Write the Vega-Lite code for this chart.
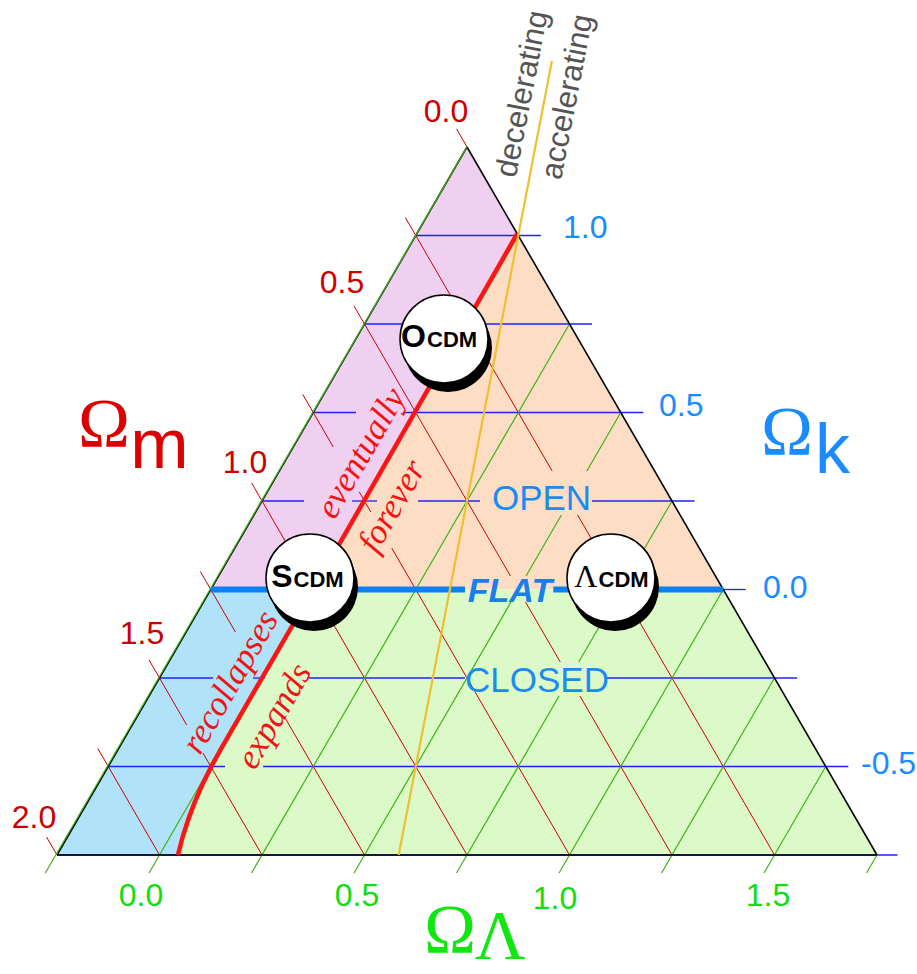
{
 "$schema": "https://vega.github.io/schema/vega-lite/v6.json",
 "width": 917,
 "height": 974,
 "padding": 0,
 "autosize": "none",
 "background": "white",
 "config": {"view": {"stroke": null}},
 "datasets": {
  "pink": [{"k":1.25,"h":-0.25,"h2":-0.25},{"k":1.0,"h":-0.5,"h2":0},{"k":0,"h":-1.5,"h2":-1.0}],
  "peach": [{"k":1.0,"h":0,"h2":0},{"k":0,"h":-1,"h2":1}],
  "blueReg": [
   {"k":0,"h":-1.5,"h2":-1},{"k":-0.1,"h":-1.6,"h2":-1.1},{"k":-0.2,"h":-1.7,"h2":-1.2},{"k":-0.3,"h":-1.8,"h2":-1.3},
   {"k":-0.4,"h":-1.9,"h2":-1.4},{"k":-0.45,"h":-1.95,"h2":-1.45},{"k":-0.5,"h":-2.0,"h2":-1.4975},{"k":-0.55,"h":-2.05,"h2":-1.54},
   {"k":-0.6,"h":-2.1,"h2":-1.5775},{"k":-0.65,"h":-2.15,"h2":-1.61},{"k":-0.7,"h":-2.2,"h2":-1.6375},{"k":-0.75,"h":-2.25,"h2":-1.66}],
  "greenReg": [
   {"k":0,"h":-1,"h2":1},{"k":-0.45,"h":-1.45,"h2":1.45},{"k":-0.5,"h":-1.4975,"h2":1.5},{"k":-0.55,"h":-1.54,"h2":1.55},
   {"k":-0.6,"h":-1.5775,"h2":1.6},{"k":-0.65,"h":-1.61,"h2":1.65},{"k":-0.7,"h":-1.6375,"h2":1.7},{"k":-0.75,"h":-1.66,"h2":1.75}],
  "blueGrid": [
   {"h":-0.5,"k":1,"h2":0.11,"k2":1},
   {"h":-0.75,"k":0.75,"h2":0.36,"k2":0.75},
   {"h":-1,"k":0.5,"h2":-0.7915,"k2":0.5},
   {"h":-0.5622,"k":0.5,"h2":0.61,"k2":0.5},
   {"h":-1.25,"k":0.25,"h2":-1.045,"k2":0.25},
   {"h":-0.811,"k":0.25,"h2":-0.689,"k2":0.25},
   {"h":-0.489,"k":0.25,"h2":-0.187,"k2":0.25},
   {"h":0.36,"k":0.25,"h2":0.86,"k2":0.25},
   {"h":1,"k":0,"h2":1.11,"k2":0},
   {"h":-1.75,"k":-0.25,"h2":-1.489,"k2":-0.25},
   {"h":-1.294,"k":-0.25,"h2":-1.235,"k2":-0.25},
   {"h":-1.03,"k":-0.25,"h2":-0.26,"k2":-0.25},
   {"h":0.433,"k":-0.25,"h2":1.36,"k2":-0.25},
   {"h":-2,"k":-0.5,"h2":-1.43,"k2":-0.5},
   {"h":-1.245,"k":-0.5,"h2":1.61,"k2":-0.5},
   {"h":-2.25,"k":-0.75,"h2":1.85,"k2":-0.75}],
  "redGrid": [
   {"h":-0.301,"k":1.301,"h2":-0.25,"k2":1.25},
   {"h":-0.551,"k":1.051,"h2":0.1653,"k2":0.3347},
   {"h":0.2895,"k":0.2105,"h2":1.25,"k2":-0.75},
   {"h":-0.801,"k":0.801,"h2":-0.0381,"k2":0.0381},
   {"h":0.0353,"k":-0.0353,"h2":0.2048,"k2":-0.2048},
   {"h":0.3008,"k":-0.3008,"h2":0.75,"k2":-0.75},
   {"h":-1.051,"k":0.551,"h2":-0.9025,"k2":0.4025},
   {"h":-0.7754,"k":0.2754,"h2":-0.7189,"k2":0.2189},
   {"h":-0.6172,"k":0.1172,"h2":0.25,"k2":-0.75},
   {"h":-1.301,"k":0.301,"h2":-0.25,"k2":-0.75},
   {"h":-1.551,"k":0.051,"h2":-1.3799,"k2":-0.1201},
   {"h":-1.1398,"k":-0.3602,"h2":-0.75,"k2":-0.75},
   {"h":-1.801,"k":-0.199,"h2":-1.6172,"k2":-0.3828},
   {"h":-1.5381,"k":-0.4619,"h2":-1.25,"k2":-0.75},
   {"h":-2.051,"k":-0.449,"h2":-1.75,"k2":-0.75},
   {"h":-2.301,"k":-0.699,"h2":-2.25,"k2":-0.75}],
  "greenGrid": [
   {"h":-1.801,"k":-0.801,"h2":0,"k2":1},
   {"h":-1.301,"k":-0.801,"h2":0.25,"k2":0.75},
   {"h":-0.801,"k":-0.801,"h2":-0.0353,"k2":-0.0353},
   {"h":0.0381,"k":0.0381,"h2":0.2105,"k2":0.2105},
   {"h":0.3347,"k":0.3347,"h2":0.5,"k2":0.5},
   {"h":-0.301,"k":-0.801,"h2":0.1992,"k2":-0.3008},
   {"h":0.2952,"k":-0.2048,"h2":0.75,"k2":0.25},
   {"h":0.199,"k":-0.801,"h2":1,"k2":0},
   {"h":0.699,"k":-0.801,"h2":1.25,"k2":-0.25},
   {"h":1.199,"k":-0.801,"h2":1.5,"k2":-0.5},
   {"h":1.699,"k":-0.801,"h2":1.75,"k2":-0.75}],
  "leftEdge": [{"h":-2.301,"k":-0.801,"h2":-0.25,"k2":1.25}],
  "outline": [
   {"h":-0.25,"k":1.25,"h2":1.75,"k2":-0.75},
   {"h":-2.25,"k":-0.75,"h2":1.75,"k2":-0.75},
   {"h":-2.25,"k":-0.75,"h2":-0.25,"k2":1.25}],
  "flat": [{"h":-1.5,"k":0,"h2":-0.26,"k2":0},{"h":0.171,"k":0,"h2":1,"k2":0}],
  "yellow": [{"h":0.1643,"k":1.493,"h2":-0.5833,"k2":-0.75}],
  "curve": [
   {"i":0,"h":-0.005,"k":1.005},{"i":1,"h":-1,"k":0},{"i":2,"h":-1.1,"k":-0.1},{"i":3,"h":-1.2,"k":-0.2},{"i":4,"h":-1.3,"k":-0.3},
   {"i":5,"h":-1.4,"k":-0.4},{"i":6,"h":-1.45,"k":-0.45},{"i":7,"h":-1.4975,"k":-0.5},{"i":8,"h":-1.54,"k":-0.55},
   {"i":9,"h":-1.5775,"k":-0.6},{"i":10,"h":-1.61,"k":-0.65},{"i":11,"h":-1.6375,"k":-0.7},{"i":12,"h":-1.66,"k":-0.75}],
  "circles": [{"h":-0.3622,"k":0.7076,"t":"OCDM"},{"h":-1.0159,"k":0.0325,"t":"SCDM"},{"h":0.4524,"k":0.0325,"t":"ΛCDM"}],
  "bigLetters": [{"h":-0.45,"k":0.685,"t":"O"},{"h":-1.1012,"k":0.0071,"t":"S"}],
  "cdm": [{"h":-0.45,"k":0.685,"t":"CDM"},{"h":-1.1012,"k":0.0071,"t":"CDM"},{"h":0.3866,"k":0.0071,"t":"CDM"}],
  "lambdaLetter": [{"h":0.3866,"k":0.0071,"t":"Λ"}],
  "redTicks": [{"h":-0.3524,"k":1.3489,"t":"0.0"},{"h":-0.8598,"k":0.8658,"t":"0.5"},{"h":-1.3329,"k":0.3573,"t":"1.0"},{"h":-1.8354,"k":-0.1257,"t":"1.5"},{"h":-2.3622,"k":-0.6455,"t":"2.0"}],
  "blueTicks": [{"h":0.2183,"k":1.0212,"t":"1.0"},{"h":0.6866,"k":0.5184,"t":"0.5"},{"h":1.1939,"k":0.0042,"t":"0.0"},{"h":1.672,"k":-0.4929,"t":"-0.5"}],
  "greenTicks": [{"h":-1.8402,"k":-0.8658,"t":"0.0"},{"h":-0.7866,"k":-0.8658,"t":"0.5"},{"h":0.1793,"k":-0.8743,"t":"1.0"},{"h":1.2183,"k":-0.8658,"t":"1.5"}],
  "serifTitles": [
   {"h":-2.0207,"k":0.4025,"t":"Ω","c":"#dd0000"},
   {"h":1.311,"k":0.3799,"t":"Ω","c":"#1a8cff"},
   {"h":-0.3329,"k":-1.0268,"t":"Ω","c":"#11e611"},
   {"h":-0.089,"k":-1.0438,"t":"Λ","c":"#11e611"}],
  "sansSubs": [
   {"h":-1.75,"k":0.3432,"t":"m","c":"#dd0000"},
   {"h":1.5329,"k":0.3291,"t":"k","c":"#1a8cff"}],
  "italicNotes": [
   {"h":-0.7671,"k":0.3856,"t":"eventually"},
   {"h":-0.6159,"k":0.2359,"t":"forever"},
   {"h":-1.4061,"k":-0.2613,"t":"recollapses"},
   {"h":-1.1915,"k":-0.3573,"t":"expands"}],
  "accel": [{"h":0.0232,"k":1.3997,"t":"decelerating"},{"h":0.2427,"k":1.3912,"t":"accelerating"}],
  "regionText": [{"h":0.1134,"k":0.2246,"t":"OPEN"},{"h":0.0915,"k":-0.2896,"t":"CLOSED"}],
  "flatText": [{"h":-0.0402,"k":-0.0353,"t":"FLAT"}]
 },
 "encoding": {
  "x": {"field": "h", "type": "quantitative", "scale": {"domain": [-2.52805, 1.94512], "nice": false, "zero": false}, "axis": null},
  "y": {"field": "k", "type": "quantitative", "scale": {"domain": [-1.08616, 1.66525], "nice": false, "zero": false}, "axis": null}
 },
 "layer": [
  {"data": {"name": "pink"}, "mark": {"type": "area", "orient": "horizontal", "fill": "#f0d0f0", "opacity": 1}, "encoding": {"x2": {"field": "h2"}}},
  {"data": {"name": "peach"}, "mark": {"type": "area", "orient": "horizontal", "fill": "#fddec4", "opacity": 1}, "encoding": {"x2": {"field": "h2"}}},
  {"data": {"name": "blueReg"}, "mark": {"type": "area", "orient": "horizontal", "fill": "#b0e2fa", "opacity": 1}, "encoding": {"x2": {"field": "h2"}}},
  {"data": {"name": "greenReg"}, "mark": {"type": "area", "orient": "horizontal", "fill": "#dcfac8", "opacity": 1}, "encoding": {"x2": {"field": "h2"}}},
  {"data": {"name": "blueGrid"}, "mark": {"type": "rule", "color": "#2020ff", "strokeWidth": 1.3}, "encoding": {"x2": {"field": "h2"}, "y2": {"field": "k2"}}},
  {"data": {"name": "redGrid"}, "mark": {"type": "rule", "color": "#cc0000", "strokeWidth": 1}, "encoding": {"x2": {"field": "h2"}, "y2": {"field": "k2"}}},
  {"data": {"name": "greenGrid"}, "mark": {"type": "rule", "color": "#3cb414", "strokeWidth": 1.2}, "encoding": {"x2": {"field": "h2"}, "y2": {"field": "k2"}}},
  {"data": {"name": "outline"}, "mark": {"type": "rule", "color": "#000000", "strokeWidth": 1.6}, "encoding": {"x2": {"field": "h2"}, "y2": {"field": "k2"}}},
  {"data": {"name": "leftEdge"}, "mark": {"type": "rule", "color": "#3cb414", "strokeWidth": 1.2, "xOffset": -1.2}, "encoding": {"x2": {"field": "h2"}, "y2": {"field": "k2"}}},
  {"data": {"name": "flat"}, "mark": {"type": "rule", "color": "#0a80f5", "strokeWidth": 6}, "encoding": {"x2": {"field": "h2"}, "y2": {"field": "k2"}}},
  {"data": {"name": "curve"}, "mark": {"type": "line", "color": "#ff1414", "strokeWidth": 4.5, "strokeJoin": "round"}, "encoding": {"order": {"field": "i", "type": "quantitative"}}},
  {"data": {"name": "yellow"}, "mark": {"type": "rule", "color": "#eebf30", "strokeWidth": 2.2}, "encoding": {"x2": {"field": "h2"}, "y2": {"field": "k2"}}},
  {"data": {"name": "circles"}, "mark": {"type": "point", "shape": "circle", "filled": true, "color": "#000000", "size": 7744, "opacity": 1, "xOffset": 4, "yOffset": 9}},
  {"data": {"name": "circles"}, "mark": {"type": "point", "shape": "circle", "filled": true, "fill": "#ffffff", "stroke": "#000000", "strokeWidth": 1.5, "size": 7744, "opacity": 1}},
  {"data": {"name": "bigLetters"}, "mark": {"type": "text", "font": "Liberation Sans", "fontWeight": "bold", "fontSize": 32, "align": "right", "baseline": "alphabetic", "fill": "#000000"}, "encoding": {"text": {"field": "t"}}},
  {"data": {"name": "cdm"}, "mark": {"type": "text", "font": "Liberation Sans", "fontWeight": "bold", "fontSize": 22, "align": "left", "baseline": "alphabetic", "fill": "#000000", "dx": 1}, "encoding": {"text": {"field": "t"}}},
  {"data": {"name": "lambdaLetter"}, "mark": {"type": "text", "font": "Liberation Serif", "fontSize": 32, "align": "right", "baseline": "alphabetic", "fill": "#000000"}, "encoding": {"text": {"field": "t"}}},
  {"data": {"name": "redTicks"}, "mark": {"type": "text", "font": "Liberation Sans", "fontSize": 32, "align": "center", "baseline": "middle", "fill": "#cc0000"}, "encoding": {"text": {"field": "t"}}},
  {"data": {"name": "blueTicks"}, "mark": {"type": "text", "font": "Liberation Sans", "fontSize": 32, "align": "left", "baseline": "middle", "fill": "#1a8cff"}, "encoding": {"text": {"field": "t"}}},
  {"data": {"name": "greenTicks"}, "mark": {"type": "text", "font": "Liberation Sans", "fontSize": 32, "align": "center", "baseline": "middle", "fill": "#11dd11"}, "encoding": {"text": {"field": "t"}}},
  {"data": {"name": "serifTitles"}, "mark": {"type": "text", "font": "Liberation Serif", "fontSize": 70, "align": "center", "baseline": "alphabetic"}, "encoding": {"text": {"field": "t"}, "color": {"field": "c", "type": "nominal", "scale": null}}},
  {"data": {"name": "sansSubs"}, "mark": {"type": "text", "font": "Liberation Sans", "fontSize": 70, "align": "center", "baseline": "alphabetic"}, "encoding": {"text": {"field": "t"}, "color": {"field": "c", "type": "nominal", "scale": null}}},
  {"data": {"name": "italicNotes"}, "mark": {"type": "text", "font": "Liberation Serif", "fontStyle": "italic", "fontSize": 35, "align": "center", "baseline": "middle", "angle": -60, "fill": "#f01414"}, "encoding": {"text": {"field": "t"}}},
  {"data": {"name": "accel"}, "mark": {"type": "text", "font": "Liberation Sans", "fontSize": 31, "align": "center", "baseline": "middle", "angle": -79, "fill": "#555555"}, "encoding": {"text": {"field": "t"}}},
  {"data": {"name": "regionText"}, "mark": {"type": "text", "font": "Liberation Sans", "fontSize": 35, "align": "center", "baseline": "alphabetic", "fill": "#1a8cf0"}, "encoding": {"text": {"field": "t"}}},
  {"data": {"name": "flatText"}, "mark": {"type": "text", "font": "Liberation Sans", "fontSize": 34, "fontWeight": "bold", "fontStyle": "italic", "align": "center", "baseline": "alphabetic", "fill": "#1a7fe8"}, "encoding": {"text": {"field": "t"}}}
 ]
}
